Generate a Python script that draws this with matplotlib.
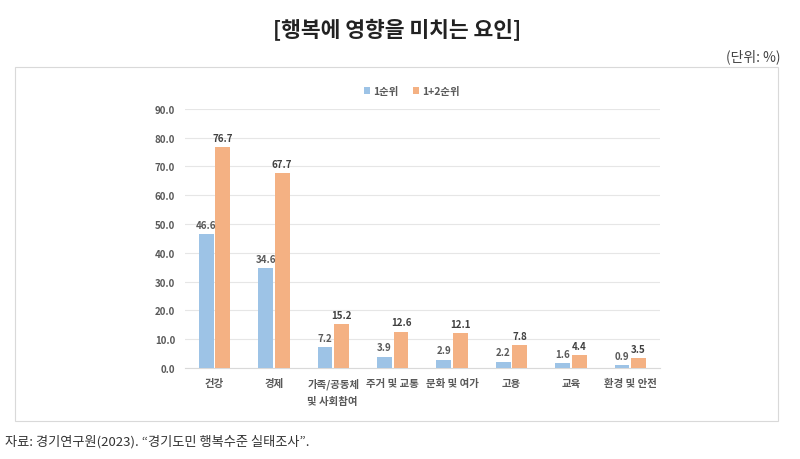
import matplotlib.pyplot as plt
from matplotlib.patches import Rectangle
import numpy as np

plt.rcParams['font.family'] = ['Noto Sans CJK KR', 'DejaVu Sans']

categories = ["건강", "경제", "가족/공동체\n및 사회참여", "주거 및 교통", "문화 및 여가", "고용", "교육", "환경 및 안전"]
rank1 = [46.6, 34.6, 7.2, 3.9, 2.9, 2.2, 1.6, 0.9]
rank12 = [76.7, 67.7, 15.2, 12.6, 12.1, 7.8, 4.4, 3.5]
yticks = [0, 10, 20, 30, 40, 50, 60, 70, 80, 90]

blue = "#9dc3e6"
orange = "#f4b183"
txt = "#595959"

fig = plt.figure(figsize=(8, 4.6), dpi=100)
fig.patch.set_facecolor("white")

# outer box
fig.add_artist(Rectangle((15 / 800, 1 - 422 / 460), 763 / 800, 354 / 460,
                         transform=fig.transFigure, fill=False,
                         edgecolor="#d9d9d9", linewidth=0.8))

ax = fig.add_axes([0.231, 0.198, 0.594, 0.563])
x = np.arange(len(categories))
w = 0.25
b1 = ax.bar(x - 0.14, rank1, w, color=blue, label="1순위", zorder=3)
b2 = ax.bar(x + 0.14, rank12, w, color=orange, label="1+2순위", zorder=3)

for bars, vals, c in [(b1, rank1, txt), (b2, rank12, "#404040")]:
    for r, v in zip(bars, vals):
        ax.text(r.get_x() + r.get_width() / 2, v + 1.5, f"{v:.1f}",
                ha="center", va="bottom", fontsize=7, fontweight="bold", color=c)

ax.set_ylim(0, 90)
ax.set_xlim(-0.5, len(categories) - 0.5)
ax.set_yticks(yticks)
ax.set_yticklabels([f"{t:.1f}" for t in yticks], fontsize=7, fontweight="bold", color=txt)
ax.set_xticks(x)
ax.set_xticklabels(categories, fontsize=7.5, fontweight="bold", color=txt,
                   multialignment="left", linespacing=1.8, va="top")
ax.tick_params(length=0, pad=7)
ax.yaxis.grid(True, color="#e6e6e6", linewidth=0.8, zorder=0)
for s in ["top", "right", "left"]:
    ax.spines[s].set_visible(False)
ax.spines["bottom"].set_color("#d9d9d9")

leg = fig.legend(loc="center", bbox_to_anchor=(0.515, 0.80), ncol=2, frameon=False,
                 fontsize=7.5, handlelength=0.6, handleheight=0.6, columnspacing=1.4,
                 handletextpad=0.3)
for t in leg.get_texts():
    t.set_fontweight("bold")
    t.set_color(txt)

fig.text(0.497, 1 - 30 / 460, "[행복에 영향을 미치는 요인]", ha="center", va="center",
         fontsize=15.5, fontweight="bold", color="#222222")
fig.text(780 / 800, 1 - 57 / 460, "(단위: %)", ha="right", va="center",
         fontsize=10, color="#444444")
fig.text(5 / 800, 1 - 442 / 460, "자료: 경기연구원(2023). “경기도민 행복수준 실태조사”.",
         ha="left", va="center", fontsize=9.5, color="#333333")

fig.savefig("out.png", dpi=100)
